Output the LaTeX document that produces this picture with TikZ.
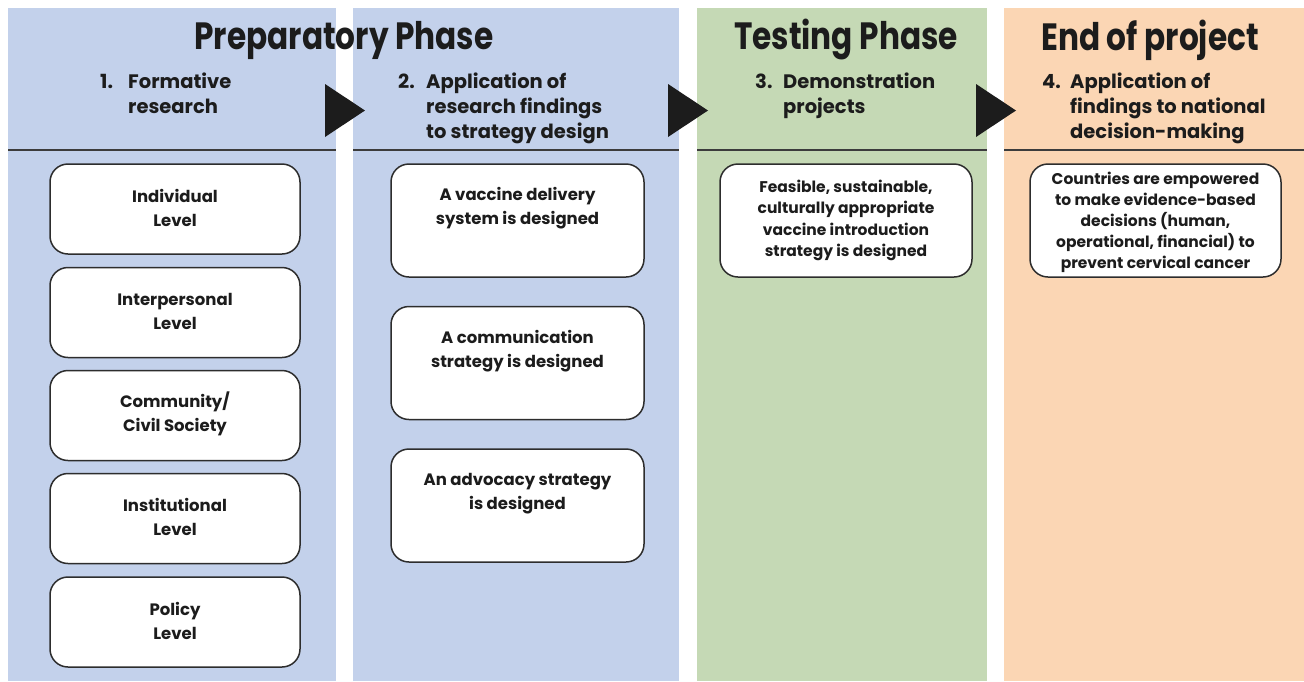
\documentclass[tikz,border=0pt]{standalone}
\usepackage{fontspec}
\setmainfont{Poppins}
\usetikzlibrary{calc}
\definecolor{pblue}{RGB}{195,209,235}
\definecolor{pgreen}{RGB}{197,217,181}
\definecolor{porange}{RGB}{251,214,180}
\definecolor{ink}{RGB}{28,28,28}
\definecolor{boxline}{RGB}{45,45,45}
\definecolor{divline}{RGB}{60,60,60}
\newcommand{\subhead}[2]{\begin{tabular}[t]{@{}p{28pt}@{}l@{}}#1 & #2\end{tabular}}
\begin{document}
\begin{tikzpicture}[x=1pt,y=-1pt,
  titlestyle/.style={font=\fontsize{38}{40}\selectfont\bfseries, text=ink, inner sep=0pt},
  substyle/.style={font=\fontsize{19.5}{25}\selectfont\bfseries, text=ink, anchor=base west, inner sep=0pt},
  boxstyle/.style={draw=boxline, line width=1.5pt, fill=white, rounded corners=18pt, inner sep=0pt},
  boxtext/.style={text=ink, font=\fontsize{16.5}{24}\selectfont\bfseries, align=center, inner sep=0pt},
  tristyle/.style={fill=ink, draw=none},
  divstyle/.style={draw=divline, line width=2pt}
]
\useasboundingbox[fill=white] (0,0) rectangle (1304,681);

% panels
\fill[pblue] (8,8) rectangle (336,681);
\fill[pblue] (353,8) rectangle (679,681);
\fill[pgreen] (697,8) rectangle (987,681);
\fill[porange] (1004,8) rectangle (1304,681);

% divider lines
\draw[divstyle] (8,150) -- (336,150);
\draw[divstyle] (353,150) -- (679,150);
\draw[divstyle] (697,150) -- (987,150);
\draw[divstyle] (1004,150) -- (1304,150);

% titles
\node[titlestyle] (t1) at (344,40) {\scalebox{0.82}[1]{Preparatory Phase}};
\node[titlestyle] (t2) at (846,40) {\scalebox{0.82}[1]{Testing Phase}};
\node[titlestyle] (t3) at (1150,40) {\scalebox{0.82}[1]{End of project}};

% subheaders
\node[substyle] (s1) at (100,88) {\subhead{1.}{Formative\\ & research}};
\node[substyle] (s2) at (398,88) {\subhead{2.}{Application of\\ & research findings\\ & to strategy design}};
\node[substyle] (s3) at (755,88) {\subhead{3.}{Demonstration\\ & projects}};
\node[substyle] (s4) at (1042,88) {\subhead{4.}{Application of\\ & findings to national\\ & decision-making}};

% arrows
\fill[tristyle] (325,84) -- (365,110.5) -- (325,137) -- cycle;
\fill[tristyle] (668,84) -- (708,110.5) -- (668,137) -- cycle;
\fill[tristyle] (976,84) -- (1016,110.5) -- (976,137) -- cycle;

% column 1 boxes
\node[boxstyle, minimum width=250pt, minimum height=90pt] (a1) at (175,209) {};
\node[boxstyle, minimum width=250pt, minimum height=90pt] (a2) at (175,312.5) {};
\node[boxstyle, minimum width=250pt, minimum height=90pt] (a3) at (175,415.5) {};
\node[boxstyle, minimum width=250pt, minimum height=90pt] (a4) at (175,518.5) {};
\node[boxstyle, minimum width=250pt, minimum height=90pt] (a5) at (175,622) {};
\node[boxtext] (a1t) at ($(a1.center)+(0,-1.5)$) {Individual\\Level};
\node[boxtext] (a2t) at ($(a2.center)+(0,-1.5)$) {Interpersonal\\Level};
\node[boxtext] (a3t) at ($(a3.center)+(0,-1.5)$) {Community/\\Civil Society};
\node[boxtext] (a4t) at ($(a4.center)+(0,-1.5)$) {Institutional\\Level};
\node[boxtext] (a5t) at ($(a5.center)+(0,-1.5)$) {Policy\\Level};

% column 2 boxes
\node[boxstyle, minimum width=253pt, minimum height=113pt] (b1) at (517.5,220.5) {};
\node[boxstyle, minimum width=253pt, minimum height=113pt] (b2) at (517.5,363) {};
\node[boxstyle, minimum width=253pt, minimum height=113pt] (b3) at (517.5,505.5) {};
\node[boxtext] (b1t) at ($(b1.center)+(0,-12)$) {A vaccine delivery\\system is designed};
\node[boxtext] (b2t) at ($(b2.center)+(0,-12)$) {A communication\\strategy is designed};
\node[boxtext] (b3t) at ($(b3.center)+(0,-12)$) {An advocacy strategy\\is designed};

% column 3 box
\node[boxstyle, minimum width=252pt, minimum height=113pt] (c1) at (846,220.5) {};
\node[boxtext, font=\fontsize{15.5}{21.5}\selectfont\bfseries] (c1t) at (c1.center) {Feasible, sustainable,\\culturally appropriate\\vaccine introduction\\strategy is designed};

% column 4 box
\node[boxstyle, minimum width=251pt, minimum height=113pt] (d1) at (1155.5,220.5) {};
\node[boxtext, font=\fontsize{15.5}{21}\selectfont\bfseries] (d1t) at ($(d1.center)+(0,1.5)$) {Countries are empowered\\to make evidence-based\\decisions (human,\\operational, financial) to\\prevent cervical cancer};
\end{tikzpicture}
\end{document}
